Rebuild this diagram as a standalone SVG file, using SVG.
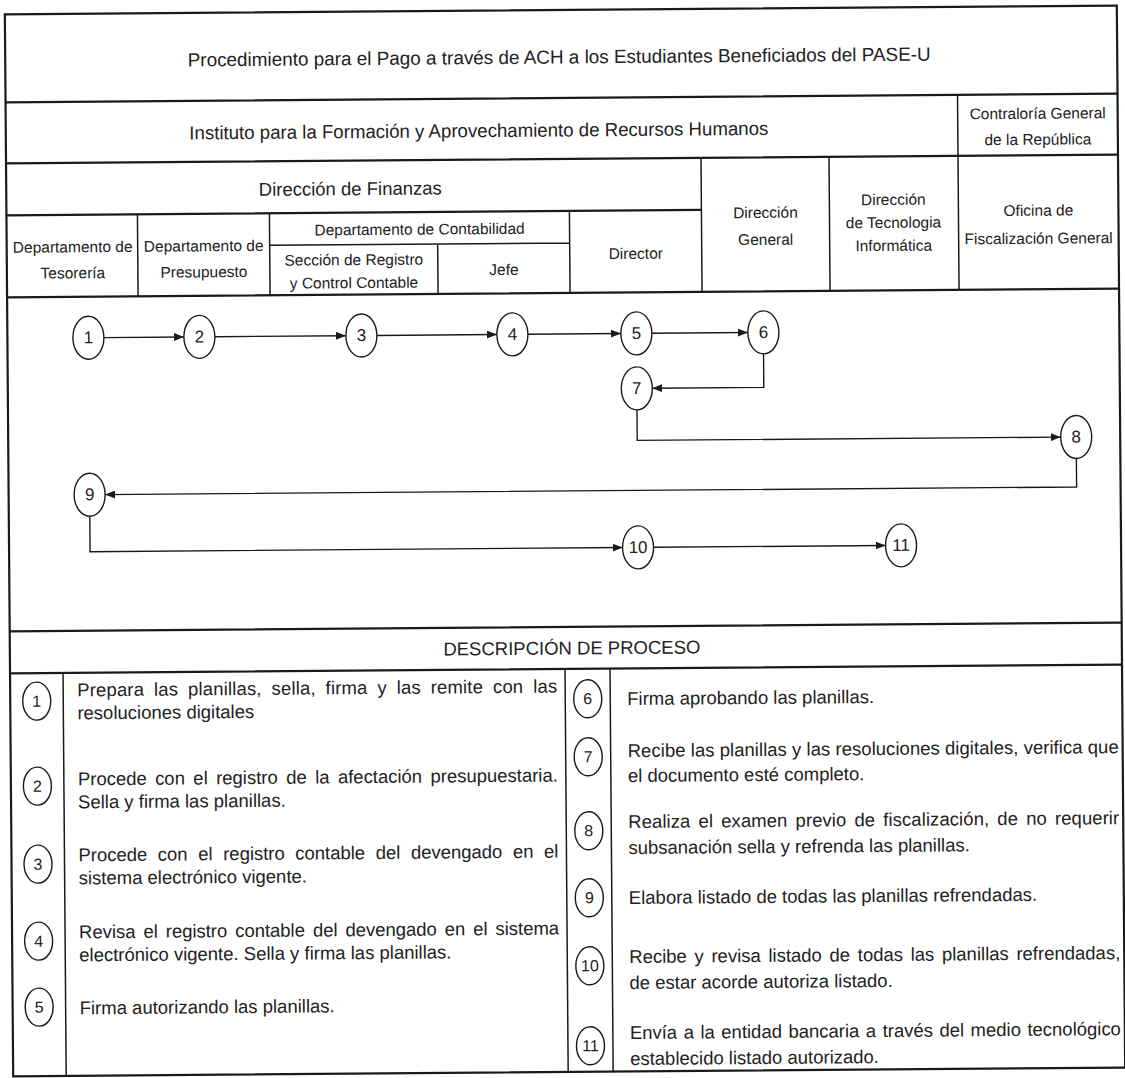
<svg xmlns="http://www.w3.org/2000/svg" width="1125" height="1078" viewBox="0 0 1125 1078">
<style>
.ln{stroke:#1a1a1a;stroke-width:2.2;fill:none}
.sl{stroke:#1a1a1a;stroke-width:1.5;fill:none}
.t{font-family:"Liberation Sans",Arial,sans-serif;fill:#222;text-anchor:middle;dominant-baseline:central}
.h{font-size:15.5px}
.big{font-size:19px}
.d{font-size:18.5px;text-anchor:start}
.node ellipse,.dn ellipse{fill:#fff;stroke:#1a1a1a;stroke-width:1.4}
.num{font-size:17px}
.dnum{font-size:16px}
#connectors path{stroke:#1a1a1a;stroke-width:1.4;fill:none;marker-end:url(#arr)}
</style>
<defs>
<marker id="arr" markerUnits="userSpaceOnUse" markerWidth="10" markerHeight="8" refX="10" refY="4" orient="auto">
<path d="M0,0 L10,4 L0,8 Z" fill="#1a1a1a"/>
</marker>
</defs>
<rect width="1125" height="1078" fill="#fff"/>
<g transform="rotate(-0.45 562 540)">
<g id="frame">
<rect class="ln" x="9" y="10" width="1112" height="1062"/>
<path class="ln" d="M9,98 H1121 M9,159 H1121 M9,211 H704 M9,293 H1121 M9,627 H1121 M9,669 H1121"/>
<path class="sl" d="M961,98 V293 M704,159 V293 M832,159 V293 M140,211 V293 M272,211 V293 M572,211 V293 M272,243 H572 M440,243 V293 M62,669 V1072 M564,669 V1072 M609,669 V1072"/>
</g>
<g id="header">
<text class="t big" x="563" y="57" textLength="743" lengthAdjust="spacingAndGlyphs">Procedimiento para el Pago a través de ACH a los Estudiantes Beneficiados del PASE-U</text>
<text class="t big" x="482" y="130" textLength="579" lengthAdjust="spacingAndGlyphs">Instituto para la Formación y Aprovechamiento de Recursos Humanos</text>
<text class="t h" x="1041" y="117">Contraloría General</text>
<text class="t h" x="1041" y="143">de la República</text>
<text class="t" style="font-size:18.5px" x="353" y="187">Dirección de Finanzas</text>
<text class="t h" x="75" y="243">Departamento de</text>
<text class="t h" x="75" y="269">Tesorería</text>
<text class="t h" x="206" y="243">Departamento de</text>
<text class="t h" x="206" y="269">Presupuesto</text>
<text class="t h" x="422" y="228">Departamento de Contabilidad</text>
<text class="t h" x="356" y="258">Sección de Registro</text>
<text class="t h" x="356" y="281">y Control Contable</text>
<text class="t h" x="506" y="269">Jefe</text>
<text class="t h" x="638" y="254">Director</text>
<text class="t h" x="768" y="214">Dirección</text>
<text class="t h" x="768" y="241">General</text>
<text class="t h" x="896" y="202">Dirección</text>
<text class="t h" x="896" y="225">de Tecnologia</text>
<text class="t h" x="896" y="248">Informática</text>
<text class="t h" x="1041" y="214">Oficina de</text>
<text class="t h" x="1041" y="242">Fiscalización General</text>
</g>
<g id="connectors">
<path d="M105.5,334 H185.5"/>
<path d="M216.5,334 H347.5"/>
<path d="M378.5,334 H498.5"/>
<path d="M529.5,334 H622.5"/>
<path d="M653.5,334 H749.5"/>
<path d="M765,355.5 V389 H653.5"/>
<path d="M638,410.5 V441 H1061.5"/>
<path d="M1077,462.5 V491 H105.5"/>
<path d="M90,512.5 V548 H622.5"/>
<path d="M653.5,548 H885.5"/>
</g>
<g id="n1" class="node"><ellipse cx="90" cy="334" rx="15.5" ry="21.5"/><text class="t num" x="90" y="334">1</text></g>
<g id="n2" class="node"><ellipse cx="201" cy="334" rx="15.5" ry="21.5"/><text class="t num" x="201" y="334">2</text></g>
<g id="n3" class="node"><ellipse cx="363" cy="334" rx="15.5" ry="21.5"/><text class="t num" x="363" y="334">3</text></g>
<g id="n4" class="node"><ellipse cx="514" cy="334" rx="15.5" ry="21.5"/><text class="t num" x="514" y="334">4</text></g>
<g id="n5" class="node"><ellipse cx="638" cy="334" rx="15.5" ry="21.5"/><text class="t num" x="638" y="334">5</text></g>
<g id="n6" class="node"><ellipse cx="765" cy="334" rx="15.5" ry="21.5"/><text class="t num" x="765" y="334">6</text></g>
<g id="n7" class="node"><ellipse cx="638" cy="389" rx="15.5" ry="21.5"/><text class="t num" x="638" y="389">7</text></g>
<g id="n8" class="node"><ellipse cx="1077" cy="441" rx="15.5" ry="21.5"/><text class="t num" x="1077" y="441">8</text></g>
<g id="n9" class="node"><ellipse cx="90" cy="491" rx="15.5" ry="21.5"/><text class="t num" x="90" y="491">9</text></g>
<g id="n10" class="node"><ellipse cx="638" cy="548" rx="15.5" ry="21.5"/><text class="t num" x="638" y="548">10</text></g>
<g id="n11" class="node"><ellipse cx="901" cy="548" rx="15.5" ry="21.5"/><text class="t num" x="901" y="548">11</text></g>
<g id="description">
<text class="t" style="font-size:18.5px" x="571" y="648">DESCRIPCIÓN DE PROCESO</text>
<g id="d1" class="dn"><ellipse cx="35.5" cy="697" rx="14" ry="19"/><text class="t dnum" x="35.5" y="697">1</text>
<text class="t d" x="76" y="686" textLength="480" lengthAdjust="spacing" word-spacing="4.6">Prepara las planillas, sella, firma y las remite con las</text>
<text class="t d" x="76" y="709">resoluciones digitales</text></g>
<g id="d2" class="dn"><ellipse cx="35.5" cy="782" rx="14" ry="19"/><text class="t dnum" x="35.5" y="782">2</text>
<text class="t d" x="76" y="775" textLength="480" lengthAdjust="spacing" word-spacing="3.3">Procede con el registro de la afectación presupuestaria.</text>
<text class="t d" x="76" y="798">Sella y firma las planillas.</text></g>
<g id="d3" class="dn"><ellipse cx="35.5" cy="860" rx="14" ry="19"/><text class="t dnum" x="35.5" y="860">3</text>
<text class="t d" x="76" y="851" textLength="480" lengthAdjust="spacing" word-spacing="5.5">Procede con el registro contable del devengado en el</text>
<text class="t d" x="76" y="874">sistema electrónico vigente.</text></g>
<g id="d4" class="dn"><ellipse cx="35.5" cy="937" rx="14" ry="19"/><text class="t dnum" x="35.5" y="937">4</text>
<text class="t d" x="76" y="928" textLength="480" lengthAdjust="spacing" word-spacing="2.8">Revisa el registro contable del devengado en el sistema</text>
<text class="t d" x="76" y="951">electrónico vigente. Sella y firma las planillas.</text></g>
<g id="d5" class="dn"><ellipse cx="35.5" cy="1003" rx="14" ry="19"/><text class="t dnum" x="35.5" y="1003">5</text>
<text class="t d" x="76" y="1004">Firma autorizando las planillas.</text></g>
<g id="d6" class="dn"><ellipse cx="586.5" cy="699" rx="14" ry="19"/><text class="t dnum" x="586.5" y="699">6</text>
<text class="t d" x="626" y="699">Firma aprobando las planillas.</text></g>
<g id="d7" class="dn"><ellipse cx="586.5" cy="757" rx="14" ry="19"/><text class="t dnum" x="586.5" y="757">7</text>
<text class="t d" x="626" y="751" textLength="491" lengthAdjust="spacing">Recibe las planillas y las resoluciones digitales, verifica que</text>
<text class="t d" x="626" y="776">el documento esté completo.</text></g>
<g id="d8" class="dn"><ellipse cx="586.5" cy="831" rx="14" ry="19"/><text class="t dnum" x="586.5" y="831">8</text>
<text class="t d" x="626" y="822" textLength="491" lengthAdjust="spacing" word-spacing="2.9">Realiza el examen previo de fiscalización, de no requerir</text>
<text class="t d" x="626" y="848">subsanación sella y refrenda las planillas.</text></g>
<g id="d9" class="dn"><ellipse cx="586.5" cy="898" rx="14" ry="19"/><text class="t dnum" x="586.5" y="898">9</text>
<text class="t d" x="626" y="898">Elabora listado de todas las planillas refrendadas.</text></g>
<g id="d10" class="dn"><ellipse cx="586.5" cy="966" rx="14" ry="19"/><text class="t dnum" x="586.5" y="966">10</text>
<text class="t d" x="626" y="957" textLength="491" lengthAdjust="spacing" word-spacing="2.5">Recibe y revisa listado de todas las planillas refrendadas,</text>
<text class="t d" x="626" y="983">de estar acorde autoriza listado.</text></g>
<g id="d11" class="dn"><ellipse cx="586.5" cy="1046" rx="14" ry="19"/><text class="t dnum" x="586.5" y="1046">11</text>
<text class="t d" x="626" y="1033" textLength="491" lengthAdjust="spacing" word-spacing="1.4">Envía a la entidad bancaria a través del medio tecnológico</text>
<text class="t d" x="626" y="1059">establecido listado autorizado.</text></g>
</g>
</g>
</svg>
